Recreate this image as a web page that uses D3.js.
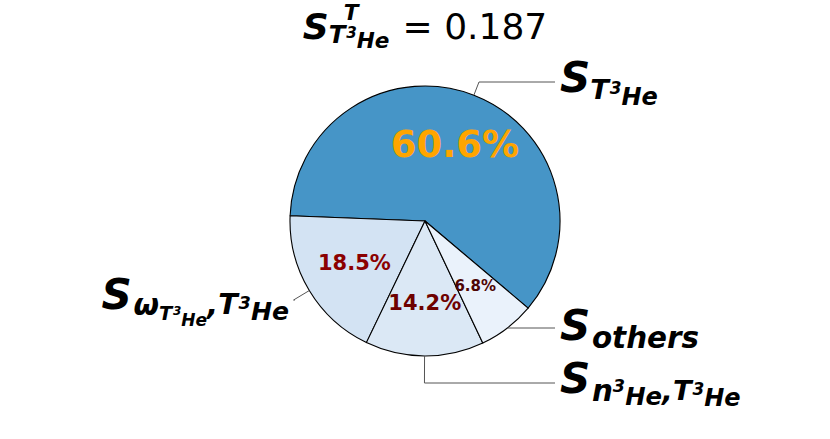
<!DOCTYPE html>
<html><head><meta charset="utf-8">
<script src="https://cdn.jsdelivr.net/npm/d3@7"></script>
<style>html,body{margin:0;padding:0;background:#fff;}svg{display:block;}</style>
</head><body>
<svg id="chart" width="830" height="439"></svg>
<script>
// ---- data ----
const categories = ["T3He", "omegaT3He_T3He", "n3He_T3He", "others"];
const shares = [60.6, 18.5, 14.2, 6.8];
const pctLabels = ["60.6%", "18.5%", "14.2%", "6.8%"];
const totalIndex = 0.187;
const wedgeColors = ["#4695c7", "#d3e3f3", "#dbe8f5", "#eaf2fb"];
const pctColors = ["#ffa500", "#8b0000", "#6e0000", "#4d0505"];
const pctSizes = [37, 21, 21, 15];
const startDeg = -40.2; // math convention, counter-clockwise

// ---- layout ----
const W = 830, H = 439;
const cx = 425, cy = 221, R = 135;
const svg = d3.select("#chart");
const FONT = "DejaVu Sans";

const toD3 = deg => (90 - deg) * Math.PI / 180;
const pie = d3.pie().sort(null).value(d => d)
  .startAngle(toD3(startDeg)).endAngle(toD3(startDeg) - 2 * Math.PI);
const arcs = pie(shares);
const arc = d3.arc().innerRadius(0).outerRadius(R);

const gPie = svg.append("g").attr("transform", `translate(${cx},${cy})`);
gPie.selectAll("path").data(arcs).join("path")
  .attr("d", arc)
  .attr("fill", (d, i) => wedgeColors[i])
  .attr("stroke", "#000").attr("stroke-width", 1.1).attr("stroke-linejoin", "round");

const mid = d => (d.startAngle + d.endAngle) / 2;
const pctR = R * 0.61;
gPie.selectAll("text.pct").data(arcs).join("text")
  .attr("class", "pct")
  .attr("x", d => pctR * Math.sin(mid(d)))
  .attr("y", d => -pctR * Math.cos(mid(d)))
  .attr("text-anchor", "middle").attr("dominant-baseline", "central")
  .attr("font-family", FONT).attr("font-weight", "bold")
  .attr("font-size", (d, i) => pctSizes[i])
  .attr("fill", (d, i) => pctColors[i])
  .text((d, i) => pctLabels[i]);

// ---- mathtext-like renderer ----
function renderMath(parent, items, F) {
  const g = parent.append("g");
  let cur = 0, mark = 0, maxEnd = 0;
  items.forEach(it => {
    const x0 = (it.fromMark ? mark : cur) + (it.kx || 0) * F;
    const t = g.append("text")
      .attr("x", x0).attr("y", (it.o || 0) * F)
      .attr("font-family", FONT)
      .attr("font-weight", it.reg ? "normal" : "bold")
      .attr("font-style", it.reg ? "normal" : "italic")
      .attr("font-size", it.s * F)
      .attr("xml:space", "preserve")
      .text(it.t);
    const w = t.node().getComputedTextLength();
    const end = x0 + w;
    if (it.mark) mark = end;
    if (it.fromMark) { cur = Math.max(cur, end); }
    else { cur = end; }
    maxEnd = Math.max(maxEnd, cur);
  });
  return { g, width: maxEnd };
}

const subT3He = (o, s) => [
  { t: "T", s: s, o: o },
  { t: "3", s: s * 0.62, o: o - 0.12, kx: 0.02 },
  { t: "He", s: s * 0.88, o: o + 0.14 }
];

// Title
{
  const F = 36;
  const items = [
    { t: "S", s: 1, o: 0, mark: true },
    ...subT3He(0.1, 0.68),
    { t: "T", s: 0.6, o: -0.52, fromMark: true, kx: 0.42 },
    { t: " = " + totalIndex.toFixed(3), s: 1, o: 0, reg: true, kx: 0.05 }
  ];
  const m = renderMath(svg, items, F);
  const bb = m.g.node().getBBox();
  m.g.attr("transform", `translate(${cx - bb.x - bb.width / 2},39)`);
}

// Labels with leader lines
const labelF = 42;
const labelSpecs = [
  { side: "right", ty: 82, items: [{ t: "S", s: 1, o: 0 }, ...subT3He(0.17, 0.65)] },
  { side: "left", ty: 300, items: [
      { t: "S", s: 1, o: 0 },
      { t: "ω", s: 0.7, o: 0.14, kx: 0.04 },
      ...subT3He(0.26, 0.46),
      { t: ",", s: 0.7, o: 0.14 },
      ...subT3He(0.12, 0.68)] },
  { side: "right", ty: 383, items: [
      { t: "S", s: 1, o: 0 },
      { t: "n", s: 0.7, o: 0.2, kx: 0.04 },
      { t: "3", s: 0.42, o: -0.02 },
      { t: "He", s: 0.58, o: 0.3 },
      { t: ",", s: 0.68, o: 0.2 },
      ...subT3He(0.18, 0.65)] },
  { side: "right", ty: 328, items: [{ t: "S", s: 1, o: 0 }, { t: "others", s: 0.7, o: 0.2, kx: 0.04 }] }
];

const lineG = svg.append("g");
arcs.forEach((d, i) => {
  const spec = labelSpecs[i];
  const a = mid(d);
  const ux = Math.sin(a), uy = -Math.cos(a);
  const px = cx + R * ux, py = cy + R * uy;
  let t = 0;
  if (Math.abs(uy) > 1e-6) t = Math.max(0, (spec.ty - py) / uy);
  const kx = px + t * ux, ky = py + t * uy;
  const endX = spec.side === "right" ? 555 : 295;
  lineG.append("path")
    .attr("d", d3.line()([[px, py], [kx, ky], [endX, spec.ty]]))
    .attr("fill", "none").attr("stroke", "#555").attr("stroke-width", 1);
  const m = renderMath(svg, spec.items, labelF);
  const bb = m.g.node().getBBox();
  const tx = spec.side === "right" ? 560 - bb.x : 289 - (bb.x + bb.width);
  const tyShift = spec.ty - (bb.y + bb.height / 2);
  m.g.attr("transform", `translate(${tx},${tyShift})`);
});
</script>
</body></html>
